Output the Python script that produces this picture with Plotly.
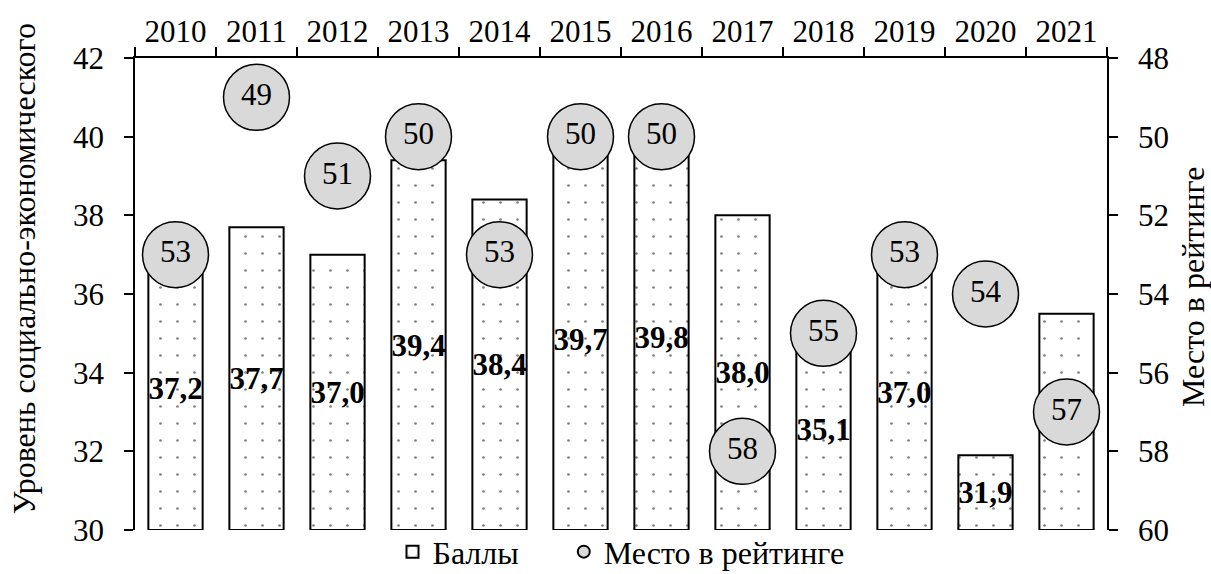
import plotly.graph_objects as go

years = ["2010", "2011", "2012", "2013", "2014", "2015", "2016", "2017", "2018", "2019", "2020", "2021"]
scores = [37.2, 37.7, 37.0, 39.4, 38.4, 39.7, 39.8, 38.0, 35.1, 37.0, 31.9, 35.5]
ranks = [53, 49, 51, 50, 53, 50, 50, 58, 55, 53, 54, 57]
score_labels = [f"{v:.1f}".replace(".", ",") for v in scores]
rank_labels = [str(r) for r in ranks]

FONT = "Liberation Serif"
FS = 31

fig = go.Figure()
fig.add_trace(go.Bar(
    x=years, y=[v - 30 for v in scores], base=30, name="Баллы" + "\u00a0" * 5,
    marker=dict(color="white", line=dict(color="black", width=2),
                pattern=dict(shape=".", fgcolor="black", bgcolor="white", size=17, solidity=0.02)),
    text=score_labels, textposition="inside", insidetextanchor="middle", textangle=0,
    insidetextfont=dict(family=FONT, size=FS, color="black", weight="bold"),
    width=0.67, yaxis="y", hoverinfo="skip",
))
fig.add_trace(go.Scatter(
    x=years, y=ranks, name="Место в рейтинге", yaxis="y2",
    mode="markers+text", text=rank_labels, textposition="middle center",
    textfont=dict(family=FONT, size=FS, color="black"),
    marker=dict(size=66, color="#d9d9d9", line=dict(color="black", width=1.5)),
    hoverinfo="skip",
))

fig.update_layout(
    width=1211, height=574,
    margin=dict(l=135, r=104, t=58, b=44, autoexpand=False),
    paper_bgcolor="white", plot_bgcolor="white",
    font=dict(family=FONT, size=FS, color="black"),
    uniformtext=dict(minsize=FS, mode="show"),
    showlegend=True,
    legend=dict(orientation="h", x=0.5, xanchor="center", y=0.012, yanchor="top",
                font=dict(family=FONT, size=32), itemsizing="constant",
                bgcolor="rgba(0,0,0,0)", tracegroupgap=0),
    xaxis=dict(type="category", side="top", range=[-0.5, 11.5], showline=True,
               linecolor="black", linewidth=1.5,
               ticks="outside", tickson="boundaries", ticklen=9, tickcolor="black", tickwidth=1.5,
               showgrid=False, zeroline=False, ticklabelstandoff=2,
               tickfont=dict(family=FONT, size=FS)),
    yaxis=dict(range=[30, 42], dtick=2, showline=True, linecolor="black", linewidth=1.5,
               ticks="outside", ticklen=9, tickcolor="black", tickwidth=1.5,
               showgrid=False, zeroline=False, ticklabelstandoff=14,
               tickfont=dict(family=FONT, size=FS)),
    yaxis2=dict(range=[60, 48], dtick=2, overlaying="y", side="right", showline=True,
                linecolor="black", linewidth=1.5, ticks="outside", ticklen=9, tickcolor="black",
                tickwidth=1.5, showgrid=False, zeroline=False, ticklabelstandoff=14,
                tickfont=dict(family=FONT, size=FS)),
    annotations=[
        dict(text="Уровень социально-экономического", xref="paper", yref="paper",
             x=-0.114, y=0.553, xanchor="center", yanchor="middle", textangle=-90,
             showarrow=False, font=dict(family=FONT, size=32)),
        dict(text="Место в рейтинге", xref="paper", yref="paper",
             x=1.0885, y=0.515, xanchor="center", yanchor="middle", textangle=-90,
             showarrow=False, font=dict(family=FONT, size=32)),
    ],
)

fig.write_html("out.html", config={"displayModeBar": False},
               post_script="document.body.style.margin='0px';")
